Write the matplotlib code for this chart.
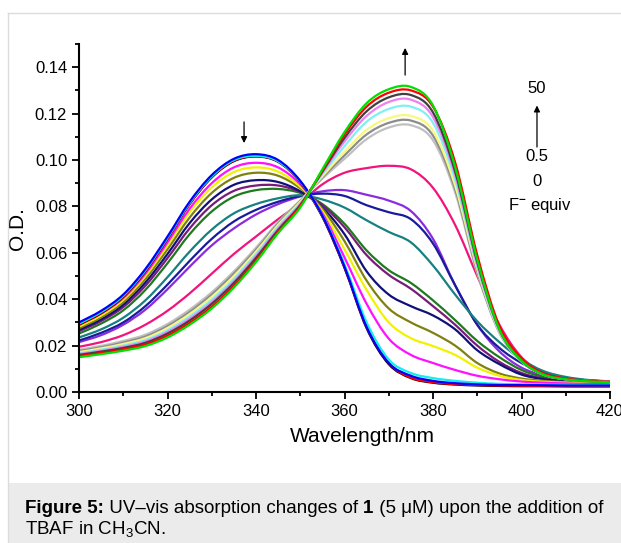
import numpy as np
import matplotlib
matplotlib.use("Agg")
import matplotlib.pyplot as plt
from matplotlib.lines import Line2D
from matplotlib.patches import Rectangle, PathPatch
from matplotlib.path import Path

plt.rcParams['font.family'] = ['Liberation Sans', 'DejaVu Sans']
plt.rcParams['mathtext.fontset'] = 'custom'
plt.rcParams['mathtext.rm'] = 'Liberation Sans'
plt.rcParams['mathtext.bf'] = 'Liberation Sans:bold'

# wavelength grid (nm) and absorbance, one list per trace
wl = [300, 305, 310, 315, 320, 325, 330, 335, 340, 345, 350, 355, 360,
      365, 370, 375, 380, 385, 390, 395, 400, 405, 410, 415, 420]

od_blue = [.0300, .0350, .0420, .0530, .0670, .0820, .0935, .1005, .1025, .1000, .0910, .0760, .0540,
           .0280, .0125, .0070, .0048, .0038, .0033, .0030, .0030, .0029, .0028, .0028, .0028]
od_cyan = [.0295, .0345, .0415, .0525, .0665, .0815, .0930, .1000, .1018, .0995, .0908, .0762, .0550,
           .0300, .0140, .0082, .0060, .0048, .0040, .0035, .0033, .0032, .0031, .0030, .0030]
od_black = [.0290, .0340, .0410, .0520, .0660, .0810, .0925, .0995, .1015, .0992, .0905, .0755, .0535,
            .0275, .0120, .0060, .0040, .0032, .0028, .0026, .0025, .0025, .0024, .0024, .0024]
od_red0 = [.0292, .0342, .0412, .0522, .0662, .0812, .0927, .0997, .1017, .0994, .0907, .0757, .0538,
           .0280, .0125, .0062, .0042, .0034, .0030, .0028, .0027, .0026, .0026, .0025, .0025]
od_magenta = [.0290, .0338, .0405, .0510, .0645, .0790, .0900, .0968, .0988, .0968, .0895, .0770, .0580,
              .0380, .0230, .0160, .0125, .0095, .0070, .0055, .0045, .0040, .0037, .0035, .0034]
od_yellow = [.0282, .0330, .0397, .0500, .0632, .0775, .0882, .0948, .0968, .0950, .0885, .0780, .0615,
             .0440, .0300, .0232, .0198, .0160, .0105, .0070, .0052, .0044, .0040, .0037, .0036]
od_olive = [.0275, .0322, .0387, .0487, .0615, .0752, .0858, .0923, .0945, .0932, .0878, .0790, .0650,
            .0480, .0360, .0300, .0255, .0200, .0125, .0080, .0058, .0048, .0043, .0040, .0038]
od_navy = [.0268, .0313, .0376, .0472, .0595, .0728, .0830, .0893, .0913, .0905, .0865, .0795, .0680,
           .0520, .0420, .0370, .0330, .0270, .0180, .0120, .0075, .0055, .0046, .0042, .0040]
od_purple = [.0262, .0306, .0366, .0458, .0577, .0705, .0805, .0867, .0890, .0890, .0862, .0805, .0710,
             .0590, .0505, .0445, .0370, .0290, .0200, .0130, .0082, .0058, .0048, .0043, .0041]
od_dkgreen = [.0252, .0295, .0352, .0440, .0555, .0680, .0778, .0842, .0870, .0875, .0858, .0810, .0725,
              .0610, .0525, .0470, .0395, .0310, .0220, .0150, .0095, .0065, .0052, .0046, .0043]
od_teal = [.0235, .0270, .0320, .0395, .0495, .0605, .0700, .0770, .0810, .0835, .0848, .0830, .0795,
           .0740, .0690, .0645, .0545, .0420, .0305, .0215, .0140, .0090, .0065, .0052, .0046]
od_royal = [.0222, .0255, .0300, .0370, .0463, .0565, .0660, .0735, .0785, .0820, .0845, .0855, .0845,
            .0805, .0775, .0745, .0640, .0460, .0290, .0190, .0125, .0083, .0061, .0050, .0045]
od_violet = [.0215, .0245, .0290, .0355, .0443, .0540, .0632, .0705, .0765, .0810, .0843, .0865, .0870,
             .0850, .0825, .0780, .0660, .0460, .0290, .0175, .0105, .0072, .0056, .0048, .0044]
od_pink = [.0195, .0215, .0245, .0290, .0350, .0425, .0510, .0595, .0670, .0745, .0815, .0895, .0945,
           .0965, .0975, .0960, .0880, .0720, .0500, .0290, .0150, .0085, .0060, .0050, .0046]
od_ltgray = [.0182, .0199, .0220, .0247, .0293, .0355, .0430, .0520, .0622, .0732, .0826, .0920, .1005,
             .1090, .1140, .1150, .1085, .0860, .0512, .0255, .0132, .0076, .0056, .0048, .0044]
od_gray = [.0177, .0193, .0213, .0239, .0284, .0345, .0420, .0510, .0613, .0726, .0823, .0925, .1020,
           .1110, .1160, .1170, .1105, .0875, .0520, .0258, .0132, .0076, .0056, .0048, .0044]
od_ltyellow = [.0172, .0188, .0207, .0232, .0276, .0336, .0410, .0500, .0605, .0720, .0820, .0930, .1035,
               .1130, .1180, .1190, .1125, .0890, .0530, .0260, .0132, .0075, .0055, .0047, .0043]
od_ltcyan = [.0167, .0182, .0200, .0224, .0266, .0325, .0398, .0488, .0595, .0712, .0815, .0938, .1060,
             .1165, .1220, .1230, .1160, .0915, .0540, .0262, .0132, .0075, .0055, .0047, .0043]
od_ltmagenta = [.0163, .0178, .0195, .0218, .0259, .0316, .0388, .0478, .0586, .0705, .0810, .0945, .1080,
                .1190, .1250, .1260, .1185, .0935, .0550, .0265, .0133, .0075, .0055, .0047, .0043]
od_dkgray = [.0160, .0174, .0190, .0212, .0252, .0308, .0380, .0470, .0578, .0698, .0806, .0950, .1095,
             .1210, .1270, .1280, .1205, .0950, .0560, .0270, .0135, .0076, .0056, .0047, .0043]
od_red = [.0155, .0168, .0184, .0205, .0243, .0298, .0368, .0458, .0567, .0690, .0802, .0955, .1110,
          .1230, .1290, .1300, .1230, .0990, .0590, .0285, .0145, .0080, .0058, .0048, .0044]
od_green = [.0150, .0163, .0178, .0198, .0235, .0290, .0360, .0450, .0560, .0685, .0795, .0960, .1120,
            .1245, .1305, .1315, .1235, .0970, .0570, .0270, .0135, .0075, .0055, .0046, .0042]

traces = [od_pink, od_violet, od_royal, od_teal, od_dkgreen, od_purple, od_navy, od_olive,
          od_yellow, od_magenta, od_black, od_red0, od_cyan, od_blue,
          od_ltgray, od_gray, od_ltyellow, od_ltcyan, od_ltmagenta, od_dkgray, od_red, od_green]
colors = ['#f0147c', '#8a2be2', '#1a1a9c', '#178080', '#1f7a1f', '#7a1a7a', '#10107a', '#808010',
          '#f2f200', '#ff10ff', '#000000', '#ff0000', '#10f0f0', '#0000ff',
          '#c0c0c0', '#8c8c8c', '#f8f880', '#80f0f0', '#f080f0', '#404040', '#ff0000', '#00e000']


def smooth_path(x, y):
    # draw through the read points with Catmull-Rom bezier segments (like Origin's spline line)
    p = np.column_stack([x, y]).astype(float)
    ext = np.vstack([p[0], p, p[-1]])
    verts = [p[0]]
    codes = [Path.MOVETO]
    for i in range(len(p) - 1):
        p0, p1, p2, p3 = ext[i], ext[i + 1], ext[i + 2], ext[i + 3]
        verts += [p1 + (p2 - p0) / 6, p2 - (p3 - p1) / 6, p2]
        codes += [Path.CURVE4] * 3
    return Path(verts, codes)


fig = plt.figure(figsize=(6.21, 5.43), dpi=100)

# page frame and caption band
fig.add_artist(Line2D([8/621, 8/621], [0, 1 - 13/543], transform=fig.transFigure, color='#dcdcdc', lw=1))
fig.add_artist(Line2D([8/621, 1], [1 - 13/543, 1 - 13/543], transform=fig.transFigure, color='#dcdcdc', lw=1))
fig.add_artist(Rectangle((8/621, 0), 1, 60/543, transform=fig.transFigure, color='#ebebeb', lw=0))

ax = fig.add_axes([79/621, 151/543, 531/621, 348/543])
for y, c in zip(traces, colors):
    ax.add_patch(PathPatch(smooth_path(wl, y), fill=False, edgecolor=c, lw=1.6,
                           joinstyle='round', capstyle='round'))

ax.set_xlim(300, 420)
ax.set_ylim(0, 0.15)
ax.set_xticks(np.arange(300, 421, 20))
ax.set_xticks(np.arange(310, 420, 20), minor=True)
ax.set_yticks(np.arange(0, 0.141, 0.02))
ax.set_yticks(np.arange(0.01, 0.151, 0.02), minor=True)
ax.yaxis.set_major_formatter(plt.FormatStrFormatter('%.2f'))
for s in ['top', 'right']:
    ax.spines[s].set_visible(False)
for s in ['left', 'bottom']:
    ax.spines[s].set_linewidth(1.5)
ax.tick_params(which='major', direction='out', length=5, width=1.3, labelsize=12)
ax.tick_params(which='minor', direction='out', length=3, width=1.3)
ax.set_xlabel('Wavelength/nm', fontsize=15)
ax.xaxis.set_label_coords(0.534, -0.129)
ax.xaxis.label.set_va('center')
ax.set_ylabel('O.D.', fontsize=15)
ax.yaxis.set_label_coords(-0.115, 0.471)
ax.yaxis.label.set_va('center')

arr = dict(arrowstyle='-|>', color='k', lw=0.9, mutation_scale=9, shrinkA=0, shrinkB=0)
ax.annotate('', xy=(337.3, 0.1073), xytext=(337.3, 0.1164), arrowprops=arr)
ax.annotate('', xy=(373.7, 0.1483), xytext=(373.7, 0.1366), arrowprops=arr, annotation_clip=False)
ax.annotate('', xy=(403.5, 0.1235), xytext=(403.5, 0.1056), arrowprops=arr)
ax.text(403.5, 0.131, '50', ha='center', va='center', fontsize=12)
ax.text(403.5, 0.1013, '0.5', ha='center', va='center', fontsize=12)
ax.text(403.5, 0.0909, '0', ha='center', va='center', fontsize=12)
ax.text(404.2, 0.0806, 'F$^{\\mathbf{-}}$ equiv', ha='center', va='center', fontsize=12)

# caption
fig.canvas.draw()
r = fig.canvas.get_renderer()


def put(x, y, s, **kw):
    t = fig.text(x, y, s, fontsize=13.5, va='baseline', **kw)
    return x + t.get_window_extent(r).width / fig.bbox.width


x = 25/621
y1 = 1 - 513/543
x = put(x, y1, 'Figure 5:', fontweight='bold')
x = put(x, y1, ' UV\u2013vis absorption changes of ')
x = put(x, y1, '1', fontweight='bold')
put(x, y1, ' (5 \u03bcM) upon the addition of')
put(25/621, 1 - 535/543, 'TBAF in CH$_3$CN.')

fig.savefig('out.png', dpi=100)
